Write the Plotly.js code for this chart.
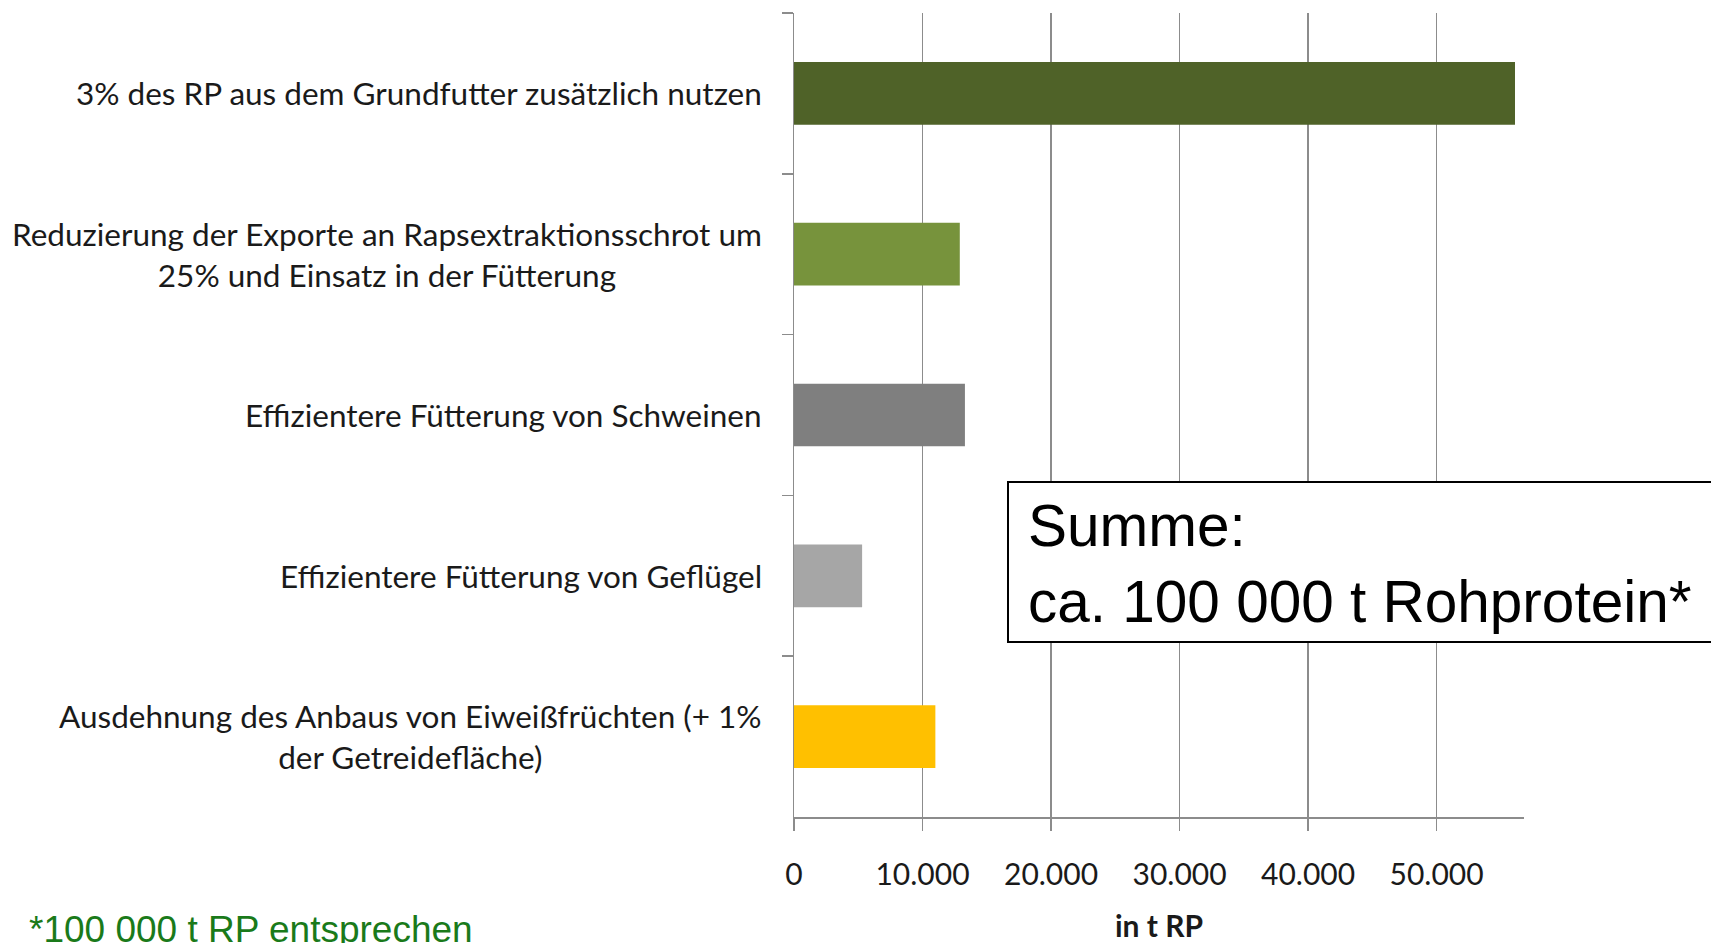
<!DOCTYPE html>
<html>
<head>
<meta charset="utf-8">
<script src="https://cdn.plot.ly/plotly-3.0.1.min.js"></script>
<style>
  html, body { margin: 0; padding: 0; background: #fff; }
  #chart { width: 1711px; height: 943px; }
</style>
</head>
<body>
<div id="chart"></div>
<script>
// Data (t Rohprotein)
const categories = [
  "3% des RP aus dem Grundfutter zusätzlich nutzen",
  "Reduzierung der Exporte an Rapsextraktionsschrot um<br>25% und Einsatz in der Fütterung",
  "Effizientere Fütterung von Schweinen",
  "Effizientere Fütterung von Geflügel",
  "Ausdehnung des Anbaus von Eiweißfrüchten (+ 1%<br>der Getreidefläche)"
];
const values = [56100, 12900, 13300, 5300, 11000];
const barColors = ["#4F6228", "#77933C", "#7F7F7F", "#A6A6A6", "#FFC000"];
const xTickValues = [0, 10000, 20000, 30000, 40000, 50000];
const xAxisTitle = "in t RP";
const boxText = "Summe:<br>ca. 100 000 t Rohprotein*";
const footnote = "*100 000 t RP entsprechen";

const labelFont = { family: "Lato, 'Open Sans', sans-serif", size: 31.5, color: "#1a1a1a" };
const tickFont = { family: "Lato, 'Open Sans', sans-serif", size: 30, color: "#1a1a1a" };
const gridColor = "#8c8c8c";

// pixel -> paper helpers (plot area: x 794..1524, y 13..817)
const px = v => (v - 794) / 730;
const py = v => 1 - (v - 13) / 804;

const trace = {
  type: "bar",
  orientation: "h",
  y: categories,
  x: values,
  width: 0.39,
  marker: { color: barColors, line: { width: 0 } },
  hoverinfo: "x+y"
};

const annotations = categories.map(c => ({
  xref: "paper", yref: "y",
  x: 0, y: c,
  xanchor: "right", yanchor: "middle",
  xshift: -30,
  text: c,
  align: "center",
  showarrow: false,
  font: labelFont
}));

annotations.push({
  xref: "paper", yref: "paper",
  x: px(1026), y: py(563),
  xanchor: "left", yanchor: "middle",
  text: boxText,
  align: "left",
  showarrow: false,
  font: { family: "'Liberation Sans', Arial, sans-serif", size: 58.5, color: "#000" }
});

annotations.push({
  xref: "paper", yref: "paper",
  x: 0, y: 0,
  xanchor: "left", yanchor: "top",
  xshift: 27 - 794, yshift: -90,
  text: footnote,
  align: "left",
  showarrow: false,
  font: { family: "'Liberation Sans', Arial, sans-serif", size: 37, color: "#1a7a1a" }
});

const shapes = [{
  type: "rect",
  xref: "paper", yref: "paper",
  x0: px(1008), x1: px(1740),
  y0: py(642), y1: py(482),
  line: { color: "#000", width: 2 },
  fillcolor: "#fff",
  layer: "above"
}];

const layout = {
  width: 1711, height: 943,
  margin: { l: 794, r: 187, t: 13, b: 126, pad: 0 },
  paper_bgcolor: "#fff",
  plot_bgcolor: "#fff",
  showlegend: false,
  separators: ",.",
  xaxis: {
    range: [0, 56800],
    tickvals: xTickValues,
    tickformat: ",d",
    showgrid: true, gridcolor: gridColor, gridwidth: 1.5,
    zeroline: false,
    showline: true, linecolor: gridColor, linewidth: 1.5,
    ticks: "outside", ticklen: 12, tickcolor: gridColor, tickwidth: 1.5,
    tickfont: tickFont,
    ticklabelstandoff: 18,
    title: { text: "<b>" + xAxisTitle + "</b>", font: { family: "Lato, sans-serif", size: 30, color: "#1a1a1a" }, standoff: 33 },
    automargin: false,
    fixedrange: true
  },
  yaxis: {
    type: "category",
    autorange: "reversed",
    showticklabels: false,
    showgrid: false,
    zeroline: false,
    showline: true, linecolor: gridColor, linewidth: 1.5,
    ticks: "outside", tickson: "boundaries", ticklen: 11, tickcolor: gridColor, tickwidth: 1.5,
    automargin: false,
    fixedrange: true
  },
  shapes: shapes,
  annotations: annotations
};

Plotly.newPlot("chart", [trace], layout, { displayModeBar: false, staticPlot: true });
</script>
</body>
</html>
